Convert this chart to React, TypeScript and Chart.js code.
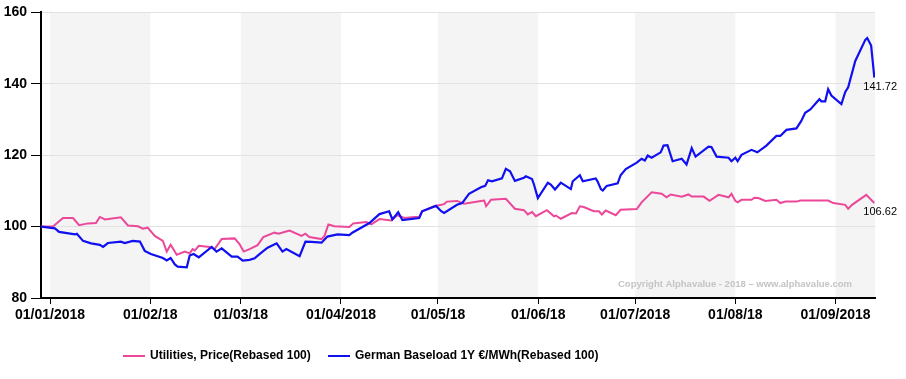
import { useEffect, useRef } from "react";
import { Chart, registerables } from "chart.js";
Chart.register(...registerables);

// x values are days since 01/01/2018
const utilDays = [-2.8, 0.9, 4.0, 7.1, 9.0, 11.7, 14.2, 15.4, 17.0, 21.9, 24.1, 27.2, 28.7, 30.2, 32.4, 34.9, 36.1, 37.3, 39.2, 41.7, 43.2, 44.1, 44.8, 46.0, 49.4, 50.9, 53.1, 57.1, 58.6, 59.9, 61.7, 64.2, 66.0, 69.4, 70.7, 72.5, 74.1, 77.8, 79.0, 80.2, 84.0, 84.9, 86.1, 88.0, 92.6, 93.8, 97.8, 99.4, 101.9, 105.6, 107.4, 109.6, 112.7, 114.2, 115.1, 118.8, 121.0, 121.9, 122.8, 125.9, 128.1, 133.3, 134.3, 134.9, 136.4, 141.0, 143.8, 146.6, 147.8, 149.1, 150.3, 153.7, 155.9, 156.5, 158.0, 161.4, 162.7, 163.9, 165.1, 168.2, 169.8, 170.7, 171.9, 175.0, 176.5, 181.5, 183.0, 186.1, 189.2, 190.7, 192.0, 195.4, 197.5, 198.5, 202.2, 204.0, 206.8, 209.9, 210.8, 212.0, 212.7, 213.9, 217.0, 217.9, 219.1, 221.3, 224.7, 225.9, 227.5, 230.9, 232.1, 240.7, 242.3, 246.0, 246.9, 248.1, 252.5, 255.0];
const utilValues = [100, 100, 102.4, 102.4, 100.4, 100.9, 101.0, 102.7, 102.0, 102.6, 100.3, 100.1, 99.4, 99.7, 97.4, 96.0, 93.0, 94.9, 92.1, 93.0, 92.5, 93.7, 93.3, 94.6, 94.3, 93.7, 96.5, 96.7, 95.1, 93.0, 93.7, 94.8, 97.1, 98.3, 98.0, 98.5, 98.9, 97.4, 98.0, 97.1, 96.5, 97.4, 100.6, 100.1, 99.9, 100.9, 101.3, 100.6, 102.1, 101.7, 103.2, 102.4, 102.7, 102.7, 104.3, 105.7, 106.1, 106.3, 107.0, 107.2, 106.4, 107.2, 107.3, 105.7, 107.5, 107.8, 105.0, 104.6, 103.4, 104.1, 102.9, 104.6, 102.9, 103.1, 102.2, 103.8, 103.7, 105.7, 105.5, 104.3, 104.3, 103.4, 104.5, 103.2, 104.7, 104.9, 106.8, 109.6, 109.2, 108.2, 109.0, 108.4, 109.0, 108.4, 108.4, 107.2, 108.9, 108.2, 109.2, 107.2, 106.8, 107.5, 107.5, 108.1, 108.0, 107.2, 107.5, 106.6, 107.0, 107.0, 107.3, 107.3, 106.6, 106.1, 105.0, 106.1, 108.9, 106.62];

const gerDays = [-2.8, 1.5, 2.8, 7.7, 8.3, 10.2, 12.7, 15.4, 16.4, 17.9, 21.9, 23.1, 25.6, 27.8, 29.3, 31.2, 34.9, 36.1, 37.3, 38.6, 39.5, 42.3, 43.2, 44.4, 46.0, 50.0, 51.5, 53.1, 56.2, 58.0, 59.6, 61.7, 63.3, 64.8, 67.3, 70.1, 71.9, 73.1, 77.2, 79.0, 80.9, 84.0, 85.8, 88.9, 92.6, 93.5, 98.8, 101.9, 104.9, 105.9, 107.7, 109.0, 114.2, 115.1, 119.4, 121.0, 121.9, 125.9, 127.5, 129.6, 133.3, 134.6, 135.5, 136.7, 139.8, 141.0, 142.3, 143.8, 146.6, 147.2, 149.1, 149.7, 150.9, 154.0, 154.9, 156.2, 158.0, 161.1, 161.7, 163.9, 164.8, 168.8, 169.4, 170.4, 171.0, 172.2, 175.6, 176.5, 178.1, 181.5, 183.0, 184.0, 184.9, 186.1, 188.9, 189.8, 191.0, 192.6, 195.4, 196.9, 198.5, 199.7, 203.7, 204.6, 206.2, 209.9, 210.8, 212.0, 212.7, 213.9, 217.0, 218.8, 221.6, 224.7, 225.9, 227.8, 230.9, 232.4, 233.6, 235.2, 238.0, 238.6, 239.8, 240.7, 241.7, 244.8, 246.0, 246.9, 249.1, 252.2, 252.8, 254.0, 255.0];
const gerValues = [100, 99.5, 98.5, 97.8, 98.0, 96.0, 95.3, 94.9, 94.3, 95.4, 95.8, 95.4, 96.0, 95.8, 93.2, 92.3, 91.2, 90.5, 91.2, 89.4, 88.8, 88.6, 91.9, 92.3, 91.4, 94.3, 93.0, 93.9, 91.6, 91.6, 90.5, 90.7, 91.1, 92.3, 94.1, 95.3, 93.0, 93.7, 91.7, 95.8, 95.7, 95.5, 97.2, 97.8, 97.6, 98.3, 101.0, 103.5, 104.3, 102.0, 104.0, 101.8, 102.4, 104.3, 105.8, 104.3, 103.8, 106.1, 106.6, 109.2, 111.0, 111.4, 113.0, 112.7, 113.5, 116.2, 115.5, 112.8, 113.7, 114.1, 113.3, 111.8, 108.0, 112.3, 111.8, 110.4, 112.3, 110.5, 112.7, 114.4, 112.7, 113.5, 112.6, 110.5, 110.1, 111.4, 112.1, 114.4, 116.1, 117.9, 119.0, 118.5, 119.9, 119.3, 120.8, 122.7, 122.8, 118.3, 119.0, 117.4, 122.0, 119.6, 122.4, 122.3, 119.6, 119.3, 118.3, 119.3, 118.3, 120.1, 121.5, 120.8, 122.7, 125.4, 125.4, 127.1, 127.5, 129.6, 131.9, 132.8, 135.7, 135.1, 135.1, 138.5, 136.7, 134.3, 137.7, 139.0, 146.4, 152.3, 152.8, 150.7, 141.72];

const monthStarts = [0, 31, 59, 90, 120, 151, 181, 212, 243];
const xTickLabels = ["01/01/2018", "01/02/18", "01/03/18", "01/04/2018", "01/05/18", "01/06/18", "01/07/2018", "01/08/18", "01/09/2018"];
const yTicks = [80, 100, 120, 140, 160];
const shadedMonths = [[0, 31], [59, 90], [120, 151], [181, 212], [243, 256]];
const seriesNames = ["Utilities, Price(Rebased 100)", "German Baseload 1Y €/MWh(Rebased 100)"];
const seriesColors = ["#ec4899", "#1010f0"];
const endLabels = ["106.62", "141.72"];
const copyrightText = "Copyright Alphavalue - 2018 – www.alphavalue.com";

const FONT = "'Liberation Sans', Arial, sans-serif";

export default function App() {
  const ref = useRef<HTMLCanvasElement>(null);
  useEffect(() => {
    document.body.style.margin = "0";
    const canvas = ref.current!;
    const bands = {
      id: "bands",
      beforeDraw(chart: any) {
        const { ctx, chartArea, scales } = chart;
        ctx.save();
        ctx.fillStyle = "#f4f4f4";
        for (const [a, b] of shadedMonths) {
          const x1 = Math.max(scales.x.getPixelForValue(a), chartArea.left);
          const x2 = Math.min(scales.x.getPixelForValue(b), chartArea.right);
          if (x2 > x1) ctx.fillRect(x1, chartArea.top, x2 - x1, chartArea.bottom - chartArea.top);
        }
        ctx.restore();
      },
    };
    const extras = {
      id: "extras",
      afterDraw(chart: any) {
        const { ctx, scales } = chart;
        ctx.save();
        // end labels
        ctx.font = `11px ${FONT}`;
        ctx.fillStyle = "#000";
        ctx.textBaseline = "middle";
        ctx.textAlign = "left";
        const ends = [
          [utilDays[utilDays.length - 1], utilValues[utilValues.length - 1]],
          [gerDays[gerDays.length - 1], gerValues[gerValues.length - 1]],
        ];
        ends.forEach(([d, v], i) => {
          const x = scales.x.getPixelForValue(d);
          const y = scales.y.getPixelForValue(v);
          ctx.fillText(endLabels[i], x - 11, y + 9);
        });
        // copyright
        ctx.font = `bold 9.5px ${FONT}`;
        ctx.fillStyle = "#c4c4c4";
        ctx.fillText(copyrightText, 618, 284);
        // legend
        ctx.font = `bold 12px ${FONT}`;
        ctx.fillStyle = "#000";
        const legendX = [123, 328];
        seriesNames.forEach((name, i) => {
          ctx.strokeStyle = seriesColors[i];
          ctx.lineWidth = 2;
          ctx.beginPath();
          ctx.moveTo(legendX[i], 356);
          ctx.lineTo(legendX[i] + 22, 356);
          ctx.stroke();
          ctx.fillText(name, legendX[i] + 27, 356);
        });
        ctx.restore();
      },
    };
    const chart = new Chart(canvas, {
      type: "line",
      data: {
        datasets: [
          {
            label: seriesNames[0],
            data: utilDays.map((d, i) => ({ x: d, y: utilValues[i] })),
            borderColor: seriesColors[0],
            borderWidth: 2,
            pointRadius: 0,
            tension: 0,
            order: 1,
          },
          {
            label: seriesNames[1],
            data: gerDays.map((d, i) => ({ x: d, y: gerValues[i] })),
            borderColor: seriesColors[1],
            borderWidth: 2.2,
            pointRadius: 0,
            tension: 0,
            order: 0,
          },
        ],
      },
      options: {
        responsive: false,
        animation: false,
        layout: { padding: { top: 8, right: 31, left: 0, bottom: 0 } },
        plugins: { legend: { display: false }, tooltip: { enabled: false } },
        scales: {
          x: {
            type: "linear",
            min: -2.8,
            max: 255.2,
            afterFit(scale: any) {
              scale.height = 81;
            },
            afterBuildTicks(scale: any) {
              scale.ticks = monthStarts.map((v) => ({ value: v }));
            },
            grid: { drawOnChartArea: false, tickLength: 6, tickColor: "#000" },
            border: { display: true, color: "#000", width: 2 },
            ticks: {
              autoSkip: false,
              maxRotation: 0,
              padding: 3,
              color: "#000",
              font: { family: FONT, size: 14, weight: "bold" },
              callback: (_v: any, i: number) => xTickLabels[i],
            },
          },
          y: {
            min: 80,
            max: 160,
            afterFit(scale: any) {
              scale.width = 41;
            },
            afterBuildTicks(scale: any) {
              scale.ticks = yTicks.map((v) => ({ value: v }));
            },
            grid: { color: "#e2e2e2", tickColor: "#000", tickLength: 10 },
            border: { display: true, color: "#000", width: 2 },
            ticks: {
              padding: 4,
              color: "#000",
              font: { family: FONT, size: 14, weight: "bold" },
            },
          },
        },
      },
      plugins: [bands, extras],
    });
    return () => chart.destroy();
  }, []);
  return (
    <canvas
      ref={ref}
      width={906}
      height={379}
      style={{ position: "absolute", left: 0, top: 0, width: 906, height: 379 }}
    />
  );
}
